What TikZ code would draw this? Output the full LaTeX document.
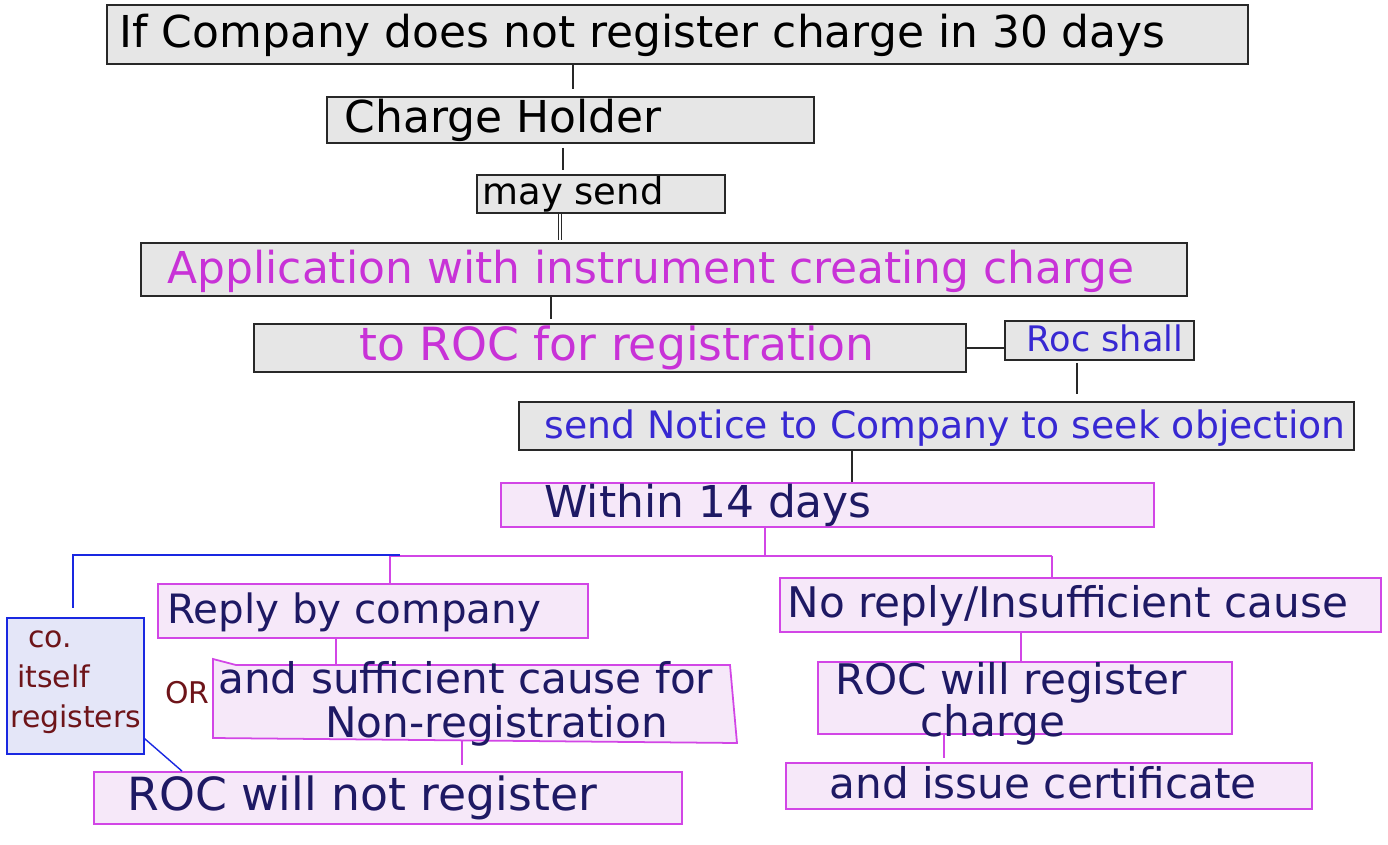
\documentclass[tikz,border=0pt]{standalone}
\usepackage{fontspec}
\setmainfont{DejaVu Sans}
\usetikzlibrary{calc}
\definecolor{gfill}{RGB}{230,230,230}
\definecolor{gline}{RGB}{40,40,40}
\definecolor{mtext}{RGB}{200,50,215}
\definecolor{btext}{RGB}{55,40,210}
\definecolor{ntext}{RGB}{30,25,100}
\definecolor{pfill}{RGB}{246,232,249}
\definecolor{pline}{RGB}{210,70,230}
\definecolor{lfill}{RGB}{228,230,248}
\definecolor{lline}{RGB}{25,40,225}
\definecolor{rtext}{RGB}{110,20,25}
\newcommand\fsz[2]{\fontsize{#1}{#2}\selectfont}
\tikzset{
  gbox/.style={draw=gline, fill=gfill, line width=0.85pt, inner sep=0pt},
  pbox/.style={draw=pline, fill=pfill, line width=1pt, inner sep=0pt},
  pshape/.style={draw=pline, fill=pfill, line width=1pt},
  lbox/.style={draw=lline, fill=lfill, line width=0.85pt, inner sep=0pt},
  txt/.style={inner sep=0pt, anchor=mid west, yshift=-1.6mm},
  gconn/.style={draw=gline, line width=0.6pt},
  pconn/.style={draw=pline, line width=0.9pt},
  bconn/.style={draw=lline, line width=0.8pt},
}
\begin{document}
\begin{tikzpicture}[x=0.2mm,y=-0.2mm]
\useasboundingbox (0,0) rectangle (1388,845);
\fill[white] (0,0) rectangle (1388,845);

% grey boxes
\node[gbox, minimum width=228.2mm, minimum height=11.8mm] (b1) at (677.5,34.5) {};
\node[gbox, minimum width=97.4mm, minimum height=9.2mm] (b2) at (570.5,120) {};
\node[gbox, minimum width=49.6mm, minimum height=7.6mm] (b3) at (601,194) {};
\node[gbox, minimum width=209.2mm, minimum height=10.6mm] (b4) at (664,269.5) {};
\node[gbox, minimum width=142.4mm, minimum height=9.6mm] (b5) at (610,348) {};
\node[gbox, minimum width=37.8mm, minimum height=7.8mm] (b6) at (1099.5,340.5) {};
\node[gbox, minimum width=167mm, minimum height=9.6mm] (b7) at (936.5,426) {};

% pink boxes
\node[pbox, minimum width=130.6mm, minimum height=8.8mm] (b8) at (827.5,505) {};
\node[pbox, minimum width=86mm, minimum height=10.8mm] (b9) at (373,611) {};
\draw[pshape] (213,659) -- (236,665) -- (730,665) -- (737,743) -- (213,738) -- cycle;
\node[pbox, minimum width=117.6mm, minimum height=10.4mm] (b11) at (388,798) {};
\node[pbox, minimum width=120.2mm, minimum height=10.8mm] (b12) at (1080.5,605) {};
\node[pbox, minimum width=82.8mm, minimum height=14.4mm] (b13) at (1025,698) {};
\node[pbox, minimum width=105.2mm, minimum height=9.2mm] (b14) at (1049,786) {};

% left blue box
\node[lbox, minimum width=27.4mm, minimum height=27.2mm] (b15) at (75.5,686) {};

% texts
\node[txt, font=\fsz{25}{25}] (t1) at ([xshift=2.6mm]b1.west) {If Company does not register charge in 30 days};
\node[txt, font=\fsz{25}{25}] (t2) at ([xshift=3.6mm]b2.west) {Charge Holder};
\node[txt, font=\fsz{21}{21}, yshift=0.4mm] (t3) at ([xshift=1.2mm]b3.west) {may send};
\node[txt, font=\fsz{25}{25}, text=mtext, yshift=-0.2mm] (t4) at ([xshift=5.4mm]b4.west) {Application with instrument creating charge};
\node[inner sep=0pt, anchor=mid, font=\fsz{26}{26}, text=mtext, yshift=-1.6mm] (t5) at (617,348) {to ROC for registration};
\node[txt, font=\fsz{20}{20}, text=btext, yshift=0.4mm] (t6) at ([xshift=4.4mm]b6.west) {Roc shall};
\node[txt, font=\fsz{21.5}{21.5}, text=btext] (t7) at ([xshift=5.2mm]b7.west) {send Notice to Company to seek objection};
\node[txt, font=\fsz{25}{25}, text=ntext] (t8) at ([xshift=8.8mm]b8.west) {Within 14 days};
\node[txt, font=\fsz{23}{23}, text=ntext] (t9) at ([xshift=2mm]b9.west) {Reply by company};
\node[inner sep=0pt, anchor=west, align=left, font=\fsz{24}{25}, text=ntext] (t10) at (218,704)
  {and sufficient cause for\\\hspace*{21.4mm}Non-registration};
\node[txt, font=\fsz{26}{26}, text=ntext] (t11) at ([xshift=6.8mm]b11.west) {ROC will not register};
\node[txt, font=\fsz{24}{24}, text=ntext] (t12) at ([xshift=1.6mm]b12.west) {No reply/Insufficient cause};
\node[inner sep=0pt, anchor=west, align=left, font=\fsz{24}{20.5}, text=ntext] (t13) at (835,704)
  {ROC will register\\\hspace*{17mm}charge};
\node[txt, font=\fsz{24}{24}, text=ntext] (t14) at ([xshift=8.8mm]b14.west) {and issue certificate};
\node[inner sep=0pt, anchor=west, align=left, font=\fsz{17}{22.8}, text=rtext] (t15) at (10,682)
  {\hspace*{3.6mm}co.\\\hspace*{1.4mm}itself\\registers};
\node[inner sep=0pt, anchor=mid west, font=\fsz{17}{17}, text=rtext] (tor) at (165,699) {OR};

% helper coordinates
\coordinate (x573) at (573,0);
\coordinate (x563) at (563,0);
\coordinate (x560) at (560,0);
\coordinate (x551) at (551,0);
\coordinate (x1077) at (1077,0);
\coordinate (x852) at (852,0);
\coordinate (x765) at (765,0);
\coordinate (x182) at (182,0);
\coordinate (x1021) at (1021,0);
\coordinate (x944) at (944,0);
\coordinate (brM) at (765,556);
\coordinate (brL) at (390,556);
\coordinate (brR) at (1052,556);
\coordinate (blL) at (73,555);
\coordinate (blR) at (400,555);
\coordinate (p10top) at (336,665);
\coordinate (p10bot) at (462,741);

% grey connectors
\draw[gconn, shorten >=1.4mm] (b1.south -| x573) -- (b2.north -| x573);
\draw[gconn, shorten <=0.8mm, shorten >=0.8mm] (b2.south -| x563) -- (b3.north -| x563);
\draw[gconn, double, double distance=0.4mm, line width=0.45pt, shorten >=0.4mm] (b3.south -| x560) -- (b4.north -| x560);
\draw[gconn, shorten >=0.8mm] (b4.south -| x551) -- (b5.north -| x551);
\draw[gconn] (b5.east) -- (b5.east -| b6.west);
\draw[gconn, shorten <=0.4mm, shorten >=1.4mm] (b6.south -| x1077) -- (b7.north -| x1077);
\draw[gconn] (b7.south -| x852) -- (b8.north -| x852);

% pink connectors
\draw[pconn] (b8.south -| x765) -- (brM);
\draw[pconn] (brL) -- (brR);
\draw[pconn] (brL) -- (b9.north -| brL);
\draw[pconn] (brR) -- (b12.north -| brR);
\draw[pconn] (b9.south -| p10top) -- (p10top);
\draw[pconn, shorten >=1.2mm] (p10bot) -- (b11.north -| p10bot);
\draw[pconn] (b12.south -| x1021) -- (b13.north -| x1021);
\draw[pconn, shorten >=0.8mm] (b13.south -| x944) -- (b14.north -| x944);

% blue connectors
\draw[bconn] (blR) -- (blL) -- ([yshift=1.8mm]b15.north -| blL);
\draw[bconn] ([yshift=3.2mm]b15.south east) -- (b11.north -| x182);
\end{tikzpicture}
\end{document}
